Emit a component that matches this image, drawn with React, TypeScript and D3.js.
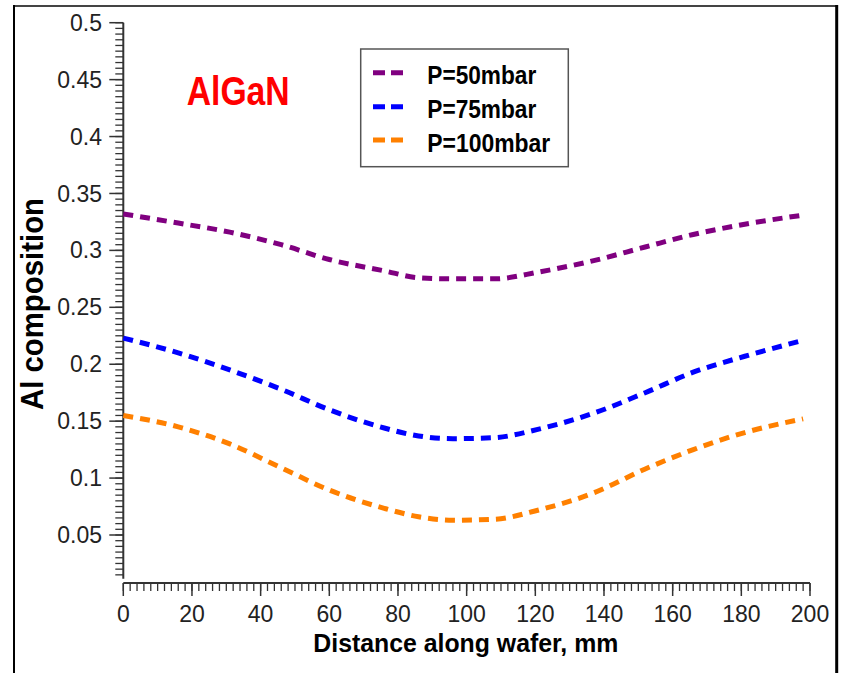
import React from "react";
import * as d3 from "d3";

const distance = [0, 16, 31, 46, 60, 76, 86, 96, 108, 121, 137, 152, 166, 181, 198];
const p50 = [0.332, 0.324, 0.316, 0.305, 0.292, 0.282, 0.276, 0.275, 0.275, 0.281, 0.291, 0.303, 0.314, 0.323, 0.331];
const p75 = [0.223, 0.210, 0.195, 0.178, 0.160, 0.144, 0.137, 0.1346, 0.1355, 0.143, 0.157, 0.175, 0.193, 0.207, 0.221];
const p100 = [0.155, 0.145, 0.130, 0.109, 0.0895, 0.0734, 0.066, 0.063, 0.0638, 0.072, 0.087, 0.108, 0.125, 0.140, 0.152];

const seriesNames = ["P=50mbar", "P=75mbar", "P=100mbar"];
const seriesColors = ["#800080", "#0000ff", "#ff8000"];
const seriesValues = [p50, p75, p100];

const yTicks = [0.05, 0.1, 0.15, 0.2, 0.25, 0.3, 0.35, 0.4, 0.45, 0.5];
const yTickLabels = ["0.05", "0.1", "0.15", "0.2", "0.25", "0.3", "0.35", "0.4", "0.45", "0.5"];
const xTicks = [0, 20, 40, 60, 80, 100, 120, 140, 160, 180, 200];

const W = 843;
const H = 673;

export default function App() {
  const x = d3.scaleLinear().domain([0, 200]).range([123.3, 810]);
  const y = d3.scaleLinear().domain([0.5, 0.05]).range([22.7, 535]);
  const yMin = 0.0115;
  const xAxisY = 583;

  const xMinor = d3.range(0, 201, 2);
  const yMinor = d3.range(15, 501, 5).map((v) => v / 1000);

  const line = d3
    .line<number>()
    .x((_, i) => x(distance[i]))
    .y((d) => y(d))
    .curve(d3.curveMonotoneX);

  const legendX = 360.7;
  const legendY = 49;
  const rowYs = [72.7, 106.7, 140];
  const legendTextLen = [109, 109, 123];

  return (
    <svg
      width={W}
      height={H}
      style={{ position: "absolute", left: 0, top: 0, background: "#fff" }}
      fontFamily="'Liberation Sans', Arial, sans-serif"
    >
      <rect x={0} y={0} width={W} height={H} fill="#fff" />
      {/* frame */}
      <line x1={14} y1={6} x2={837} y2={6} stroke="#444" strokeWidth={2} />
      <line x1={14} y1={5} x2={14} y2={H} stroke="#000" strokeWidth={2} />
      <line x1={836.7} y1={5} x2={836.7} y2={H} stroke="#000" strokeWidth={3} />

      {/* Y axis */}
      <line x1={x(0)} y1={y(0.5)} x2={x(0)} y2={y(yMin)} stroke="#333" strokeWidth={2} />
      {yMinor.map((v, i) => (
        <line key={"ym" + i} x1={x(0) - 8} x2={x(0)} y1={y(v)} y2={y(v)} stroke="#333" strokeWidth={1.3} />
      ))}
      {yTicks.map((v, i) => (
        <g key={"yt" + i}>
          <line x1={x(0) - 14} x2={x(0)} y1={y(v)} y2={y(v)} stroke="#333" strokeWidth={1.5} />
          <text x={102} y={y(v)} dy="0.35em" textAnchor="end" fontSize={23} fill="#222">
            {yTickLabels[i]}
          </text>
        </g>
      ))}

      {/* X axis */}
      <line x1={x(0)} y1={xAxisY} x2={x(200)} y2={xAxisY} stroke="#333" strokeWidth={2} />
      {xMinor.map((v, i) => (
        <line key={"xm" + i} x1={x(v)} x2={x(v)} y1={xAxisY} y2={xAxisY + 8} stroke="#333" strokeWidth={1.3} />
      ))}
      {xTicks.map((v, i) => (
        <g key={"xt" + i}>
          <line x1={x(v)} x2={x(v)} y1={xAxisY} y2={xAxisY + 13} stroke="#333" strokeWidth={1.5} />
          <text x={x(v)} y={622} textAnchor="middle" fontSize={23} fill="#222">
            {String(v)}
          </text>
        </g>
      ))}

      {/* axis titles */}
      <text
        x={465.8}
        y={652}
        textAnchor="middle"
        fontSize={26}
        fontWeight="bold"
        fill="#000"
        textLength={305}
        lengthAdjust="spacingAndGlyphs"
      >
        Distance along wafer, mm
      </text>
      <text
        transform="translate(43.3,304) rotate(-90)"
        x={0}
        y={0}
        textAnchor="middle"
        fontSize={31}
        fontWeight="bold"
        fill="#000"
        textLength={212}
        lengthAdjust="spacingAndGlyphs"
      >
        Al composition
      </text>

      {/* series */}
      {seriesValues.map((vals, i) => (
        <path
          key={"s" + i}
          d={line(vals) || ""}
          fill="none"
          stroke={seriesColors[i]}
          strokeWidth={5}
          strokeDasharray="10,7"
        />
      ))}

      {/* AlGaN label */}
      <text
        x={186.7}
        y={105}
        fontSize={41}
        fontWeight="bold"
        fill="#ff0000"
        textLength={103}
        lengthAdjust="spacingAndGlyphs"
      >
        AlGaN
      </text>

      {/* legend */}
      <rect x={legendX} y={legendY} width={207.6} height={117.7} fill="#fff" stroke="#555" strokeWidth={1.5} />
      {seriesNames.map((name, i) => (
        <g key={"lg" + i}>
          <line
            x1={373}
            x2={403}
            y1={rowYs[i]}
            y2={rowYs[i]}
            stroke={seriesColors[i]}
            strokeWidth={5}
            strokeDasharray="12,6"
          />
          <text
            x={427.3}
            y={rowYs[i] + 11.6}
            fontSize={25}
            fontWeight="bold"
            fill="#000"
            textLength={legendTextLen[i]}
            lengthAdjust="spacingAndGlyphs"
          >
            {name}
          </text>
        </g>
      ))}
    </svg>
  );
}
